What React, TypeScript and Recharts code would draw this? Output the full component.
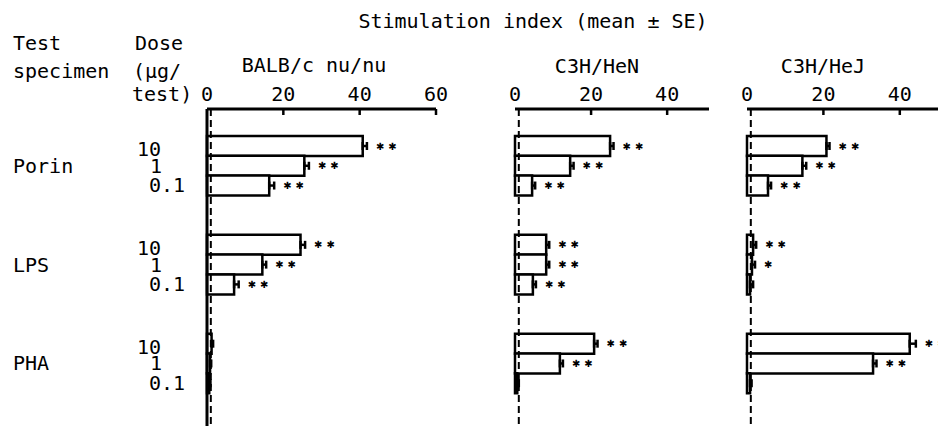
import { BarChart, Bar, XAxis, YAxis, ErrorBar, LabelList, ReferenceLine } from 'recharts';

const groups = ['Porin', 'LPS', 'PHA'];
const doses = ['10', '1', '0.1'];
const strains = ['BALB/c nu/nu', 'C3H/HeN', 'C3H/HeJ'];

// values per row: Porin 10, 1, 0.1, LPS 10, 1, 0.1, PHA 10, 1, 0.1
const balbMean = [40.8, 25.5, 16.3, 24.5, 14.5, 7.1, 1.2, 0.8, 0.6];
const balbSE = [1.1, 1.2, 1.3, 1.2, 1.0, 1.2, 0.4, 0.3, 0.3];
const balbSig = ['**', '**', '**', '**', '**', '**', '', '', ''];

const henMean = [25.0, 14.5, 4.5, 8.2, 8.2, 4.7, 20.8, 11.8, 0.6];
const henSE = [0.9, 0.9, 0.8, 0.8, 0.8, 0.8, 0.9, 0.8, 0.4];
const henSig = ['**', '**', '**', '**', '**', '**', '**', '**', ''];

const hejMean = [20.8, 14.5, 5.5, 1.6, 1.3, 0.8, 42.6, 33.0, 0.8];
const hejSE = [0.8, 1.0, 0.8, 0.8, 0.8, 0.8, 1.6, 0.9, 0.4];
const hejSig = ['**', '**', '**', '**', '*', '', '**', '**', ''];

const balbTicks = [0, 20, 40, 60];
const henTicks = [0, 20, 40];
const hejTicks = [0, 20, 40];

const controlIndex = 1; // stimulation index of unstimulated cells

const FONT = '"DejaVu Sans Mono", monospace';

interface Row {
  key: string;
  group?: string;
  dose?: string;
  mean?: number | null;
  se?: number;
  err?: number[];
  sig?: string;
}

function buildRows(mean: number[], se: number[], sig: string[]): Row[] {
  const rows: Row[] = [];
  groups.forEach((g, gi) => {
    if (gi > 0) {
      rows.push({ key: `gap${gi}a`, mean: null });
      rows.push({ key: `gap${gi}b`, mean: null });
    }
    doses.forEach((d, di) => {
      const i = gi * 3 + di;
      rows.push({ key: `${g}-${d}`, group: g, dose: d, mean: mean[i], se: se[i], err: [0, se[i]], sig: sig[i] });
    });
  });
  return rows;
}

const balbRows = buildRows(balbMean, balbSE, balbSig);
const henRows = buildRows(henMean, henSE, henSig);
const hejRows = buildRows(hejMean, hejSE, hejSig);

function XTick(props: any) {
  const { x, y, payload } = props;
  return (
    <g>
      <text x={x} y={y} textAnchor="middle" fontFamily={FONT} fontSize={20} fill="#000">
        {payload.value}
      </text>
      {payload.value !== 0 && <line x1={x} x2={x} y1={y + 8} y2={y + 14} stroke="#000" strokeWidth={2.5} />}
    </g>
  );
}

const doseX: { [k: string]: number } = { '10': 137, '1': 150, '0.1': 149 };
const doseDy: { [k: string]: number } = { '10': 10, '1': 7, '0.1': 7 };

function DoseTick(props: any) {
  const { y, payload } = props;
  const row = balbRows.find((r) => r.key === payload.value);
  if (!row || !row.dose) return null;
  return (
    <g fontFamily={FONT} fontSize={20} fill="#000">
      {row.dose === '1' && (
        <text x={13} y={y + 7}>
          {row.group}
        </text>
      )}
      <text x={doseX[row.dose]} y={y + doseDy[row.dose]}>
        {row.dose}
      </text>
    </g>
  );
}

// stars drawn after the error bar; the label value is the row key
function makeStars(rows: Row[]) {
  return (props: any) => {
    const row = rows.find((r) => r.key === props.value);
    if (!row || !row.sig || !row.mean) return null;
    const vb = props.viewBox && props.viewBox.width !== undefined ? props.viewBox : props;
    const { x, y, width, height } = vb;
    const errPx = ((row.se || 0) * width) / row.mean;
    return (
      <text
        x={x + width + errPx + 9}
        y={y + height / 2}
        dominantBaseline="central"
        fontFamily="DejaVu Sans"
        fontSize={10}
        letterSpacing={4}
        fill="#000"
      >
        {row.sig.replace(/\*/g, '\u2731')}
      </text>
    );
  };
}

interface PanelProps {
  rows: Row[];
  domainMax: number;
  ticks: number[];
  left: number;
  width: number;
  yAxisWidth: number;
  marginLeft: number;
  marginRight: number;
  showLabels?: boolean;
}

function Panel({ rows, domainMax, ticks, left, width, yAxisWidth, marginLeft, marginRight, showLabels }: PanelProps) {
  return (
    <div style={{ position: 'absolute', left, top: 0 }}>
      <BarChart
        width={width}
        height={426}
        data={rows}
        layout="vertical"
        barCategoryGap={0}
        barGap={0}
        margin={{ top: 80, right: marginRight, left: marginLeft, bottom: 0 }}
      >
        <XAxis
          type="number"
          orientation="top"
          domain={[0, domainMax]}
          ticks={ticks}
          height={29}
          tickSize={0}
          tickMargin={8}
          tickLine={false}
          axisLine={{ stroke: '#000', strokeWidth: 3 }}
          tick={<XTick />}
        />
        <YAxis
          type="category"
          dataKey="key"
          width={yAxisWidth}
          interval={0}
          padding={{ top: 27, bottom: 33 }}
          tickLine={false}
          axisLine={{ stroke: '#000', strokeWidth: 3 }}
          tick={showLabels ? <DoseTick /> : false}
        />
        <ReferenceLine x={controlIndex} stroke="#000" strokeWidth={2} strokeDasharray="7 4" />
        <Bar dataKey="mean" fill="#fff" stroke="#000" strokeWidth={2.5} isAnimationActive={false}>
          <ErrorBar dataKey="err" direction="x" width={4} stroke="#000" strokeWidth={2.5} />
          <LabelList dataKey="key" content={makeStars(rows)} />
        </Bar>
      </BarChart>
    </div>
  );
}

export default function App() {
  return (
    <div
      style={{
        position: 'fixed',
        left: 0,
        top: 0,
        width: 938,
        height: 426,
        background: '#fff',
        overflow: 'hidden',
      }}
    >
      <Panel rows={balbRows} domainMax={60} ticks={balbTicks} left={0} width={460} yAxisWidth={207} marginLeft={0} marginRight={24} showLabels />
      <Panel rows={henRows} domainMax={51} ticks={henTicks} left={495} width={226} yAxisWidth={0} marginLeft={20} marginRight={12} />
      <Panel rows={hejRows} domainMax={50} ticks={hejTicks} left={727} width={211} yAxisWidth={0} marginLeft={20} marginRight={0} />
      <svg width={938} height={426} style={{ position: 'absolute', left: 0, top: 0, pointerEvents: 'none' }}>
        <g fontFamily={FONT} fontSize={20} fill="#000">
          <text x={533} y={28} textAnchor="middle">Stimulation index (mean ± SE)</text>
          <text x={13} y={50}>Test</text>
          <text x={13} y={78}>specimen</text>
          <text x={135} y={50}>Dose</text>
          <text x={133} y={78}>(μg/</text>
          <text x={132} y={101}>test)</text>
          <text x={314} y={72} textAnchor="middle">{strains[0]}</text>
          <text x={597} y={73} textAnchor="middle">{strains[1]}</text>
          <text x={823} y={73} textAnchor="middle">{strains[2]}</text>
        </g>
      </svg>
    </div>
  );
}
